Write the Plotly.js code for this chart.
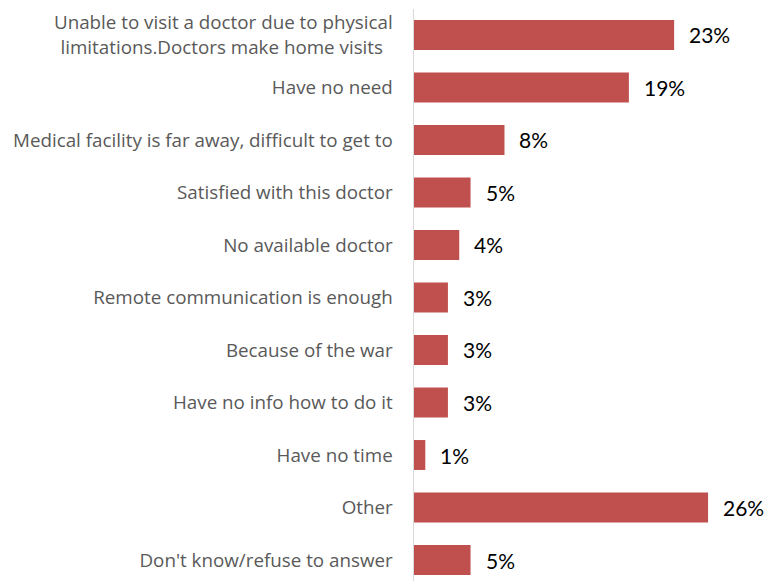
<!DOCTYPE html>
<html>
<head>
<meta charset="utf-8">
<script src="https://cdn.plot.ly/plotly-3.0.1.min.js"></script>
<style>html,body{margin:0;padding:0;background:#fff;}#chart{width:768px;height:581px;}</style>
</head>
<body>
<div id="chart"></div>
<script>
var categories = [
  "Unable to visit a doctor due to physical<br>limitations.Doctors make home visits&nbsp;&nbsp;",
  "Have no need",
  "Medical facility is far away, difficult to get to",
  "Satisfied with this doctor",
  "No available doctor",
  "Remote communication is enough",
  "Because of the war",
  "Have no info how to do it",
  "Have no time",
  "Other",
  "Don't know/refuse to answer"
];
var values = [23, 19, 8, 5, 4, 3, 3, 3, 1, 26, 5];
var labels = ["23%", "19%", "8%", "5%", "4%", "3%", "3%", "3%", "1%", "26%", "5%"];

var idx = categories.map(function(_, i){ return i; });

var trace = {
  type: 'bar',
  orientation: 'h',
  x: values,
  y: idx,
  marker: {color: '#C0504D'},
  width: 0.57,
  hoverinfo: 'none'
};

var annotations = values.map(function(v, i){
  return {
    x: v, y: i, xref: 'x', yref: 'y',
    text: labels[i], showarrow: false,
    xanchor: 'left', yanchor: 'middle', xshift: 13,
    font: {family: 'Lato, Carlito, sans-serif', size: 21, color: '#000000'}
  };
});

var layout = {
  width: 768, height: 581,
  margin: {l: 414, r: 0, t: 9, b: 0, pad: 0},
  paper_bgcolor: '#ffffff', plot_bgcolor: '#ffffff',
  showlegend: false,
  xaxis: {range: [0, 31.3], showgrid: false, zeroline: false, showticklabels: false, showline: false, ticks: ''},
  yaxis: {
    range: [10.4, -0.495],
    tickmode: 'array', tickvals: idx, ticktext: categories,
    showgrid: false, zeroline: false,
    showline: true, linecolor: '#d9d9d9', linewidth: 1.5,
    ticks: '', ticklabelstandoff: 16,
    tickfont: {family: '"Open Sans", sans-serif', size: 18.8, color: '#595959'}
  },
  annotations: annotations
};

Plotly.newPlot('chart', [trace], layout, {staticPlot: true, displayModeBar: false});
</script>
</body>
</html>
